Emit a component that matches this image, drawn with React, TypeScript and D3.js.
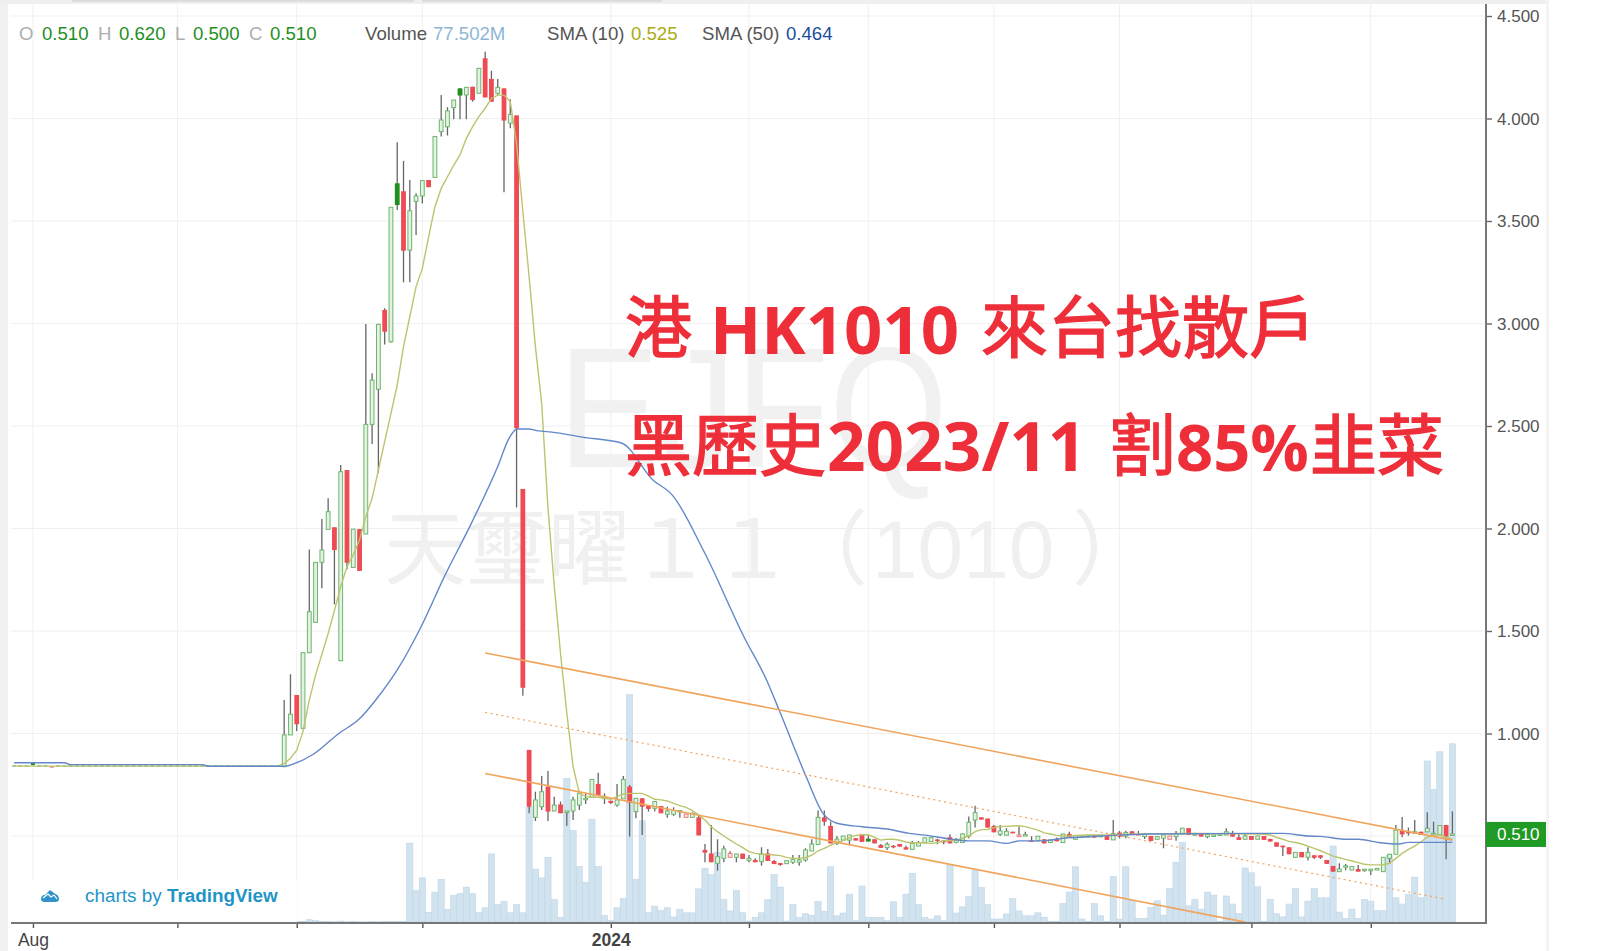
import { useEffect, useRef } from 'react';
import * as d3 from 'd3';

// flat stretch before the run up, one close per bar
const preListingClose = [
  0.84, 0.84, 0.84, 0.85, 0.84, 0.84, 0.835, 0.84, 0.84, 0.84, 0.84, 0.84, 0.84, 0.84, 0.84,
  0.84, 0.84, 0.84, 0.84, 0.84, 0.84, 0.84, 0.84, 0.84, 0.84, 0.84, 0.84, 0.84, 0.84, 0.84,
  0.84, 0.84, 0.84, 0.84, 0.84, 0.84, 0.84, 0.84, 0.84, 0.84, 0.84, 0.84, 0.84,
];

// open, high, low, close
const candles: [number, number, number, number][] = [
  [0.838, 1.163, 0.838, 0.993], [0.993, 1.289, 0.993, 1.094], [1.188, 1.188, 1.012, 1.045], [1.025, 1.394, 1.025, 1.394],
  [1.394, 1.898, 1.394, 1.594], [1.542, 1.835, 1.542, 1.835], [1.835, 2.046, 1.708, 1.895], [1.996, 2.147, 1.996, 2.082],
  [2.006, 2.006, 1.63, 1.895], [1.355, 2.31, 1.355, 2.277], [2.285, 2.285, 1.801, 1.833], [1.81, 1.997, 1.81, 1.997],
  [1.997, 1.997, 1.793, 1.793], [1.973, 2.998, 1.973, 2.508], [2.508, 2.757, 2.412, 2.724], [2.679, 2.996, 2.272, 2.996],
  [3.066, 3.074, 2.898, 2.96], [2.911, 3.567, 2.907, 3.567], [3.684, 3.884, 3.554, 3.578], [3.645, 3.793, 3.201, 3.355],
  [3.358, 3.7, 3.201, 3.55], [3.596, 3.635, 3.432, 3.622], [3.622, 3.697, 3.586, 3.697], [3.7, 3.7, 3.665, 3.665],
  [3.713, 3.912, 3.713, 3.912], [3.936, 4.115, 3.912, 3.993], [3.96, 4.055, 3.917, 4.037], [4.053, 4.09, 3.996, 4.09],
  [4.147, 4.147, 3.996, 4.112], [4.115, 4.152, 3.996, 4.152], [4.155, 4.155, 4.082, 4.09], [4.123, 4.245, 4.123, 4.245],
  [4.294, 4.326, 4.103, 4.103], [4.193, 4.233, 4.082, 4.082], [4.123, 4.193, 4.115, 4.152], [4.147, 4.147, 3.64, 3.99],
  [3.977, 4.094, 3.952, 4.02], [4.015, 4.015, 2.103, 2.489], [2.193, 2.193, 1.184, 1.223], [0.92, 0.92, 0.611, 0.643],
  [0.591, 0.716, 0.573, 0.676], [0.643, 0.793, 0.627, 0.716], [0.741, 0.817, 0.573, 0.619], [0.622, 0.692, 0.622, 0.651],
  [0.654, 0.668, 0.611, 0.611], [0.619, 0.622, 0.55, 0.622], [0.622, 0.692, 0.578, 0.676], [0.651, 0.721, 0.627, 0.708],
  [0.68, 0.708, 0.656, 0.684], [0.689, 0.776, 0.689, 0.776], [0.754, 0.809, 0.7, 0.7], [0.685, 0.708, 0.656, 0.69],
  [0.672, 0.672, 0.656, 0.661], [0.651, 0.754, 0.643, 0.676], [0.681, 0.793, 0.681, 0.776], [0.741, 0.749, 0.497, 0.663],
  [0.619, 0.684, 0.586, 0.684], [0.684, 0.684, 0.505, 0.643], [0.651, 0.651, 0.619, 0.632], [0.635, 0.668, 0.619, 0.668],
  [0.646, 0.646, 0.611, 0.611], [0.606, 0.643, 0.589, 0.622], [0.606, 0.64, 0.598, 0.624], [0.622, 0.624, 0.589, 0.624],
  [0.591, 0.607, 0.591, 0.607], [0.591, 0.614, 0.591, 0.611], [0.591, 0.602, 0.503, 0.503], [0.432, 0.461, 0.372, 0.419],
  [0.415, 0.554, 0.372, 0.372], [0.367, 0.484, 0.331, 0.399], [0.391, 0.453, 0.372, 0.437], [0.396, 0.425, 0.396, 0.415],
  [0.396, 0.412, 0.372, 0.412], [0.414, 0.414, 0.388, 0.388], [0.381, 0.407, 0.372, 0.391], [0.383, 0.391, 0.372, 0.372],
  [0.375, 0.445, 0.355, 0.412], [0.415, 0.437, 0.378, 0.378], [0.378, 0.383, 0.363, 0.363], [0.368, 0.368, 0.355, 0.359],
  [0.365, 0.38, 0.365, 0.38], [0.372, 0.407, 0.363, 0.386], [0.372, 0.407, 0.355, 0.383], [0.383, 0.44, 0.375, 0.432],
  [0.427, 0.484, 0.427, 0.461], [0.459, 0.624, 0.459, 0.591], [0.591, 0.624, 0.55, 0.57], [0.549, 0.57, 0.464, 0.464],
  [0.464, 0.5, 0.456, 0.485], [0.48, 0.5, 0.48, 0.5], [0.48, 0.505, 0.458, 0.505], [0.489, 0.49, 0.478, 0.478],
  [0.507, 0.507, 0.471, 0.471], [0.487, 0.504, 0.473, 0.473], [0.484, 0.484, 0.464, 0.464], [0.456, 0.461, 0.442, 0.442],
  [0.443, 0.469, 0.432, 0.46], [0.452, 0.456, 0.44, 0.451], [0.461, 0.461, 0.448, 0.448], [0.445, 0.452, 0.434, 0.434],
  [0.435, 0.476, 0.435, 0.464], [0.451, 0.476, 0.451, 0.468], [0.469, 0.491, 0.469, 0.491], [0.473, 0.492, 0.473, 0.492],
  [0.483, 0.487, 0.46, 0.478], [0.478, 0.478, 0.46, 0.469], [0.494, 0.508, 0.464, 0.464], [0.469, 0.49, 0.465, 0.484],
  [0.468, 0.513, 0.468, 0.51], [0.5, 0.595, 0.489, 0.567], [0.578, 0.647, 0.541, 0.614], [0.591, 0.591, 0.58, 0.58],
  [0.585, 0.585, 0.541, 0.541], [0.549, 0.554, 0.518, 0.518], [0.508, 0.554, 0.5, 0.525], [0.504, 0.538, 0.504, 0.523],
  [0.521, 0.521, 0.513, 0.513], [0.497, 0.546, 0.497, 0.505], [0.505, 0.521, 0.505, 0.507], [0.478, 0.499, 0.476, 0.476],
  [0.476, 0.499, 0.476, 0.499], [0.484, 0.484, 0.464, 0.464], [0.468, 0.481, 0.468, 0.481], [0.486, 0.493, 0.474, 0.474],
  [0.468, 0.51, 0.468, 0.51], [0.51, 0.521, 0.494, 0.494], [0.484, 0.502, 0.484, 0.502], [0.494, 0.505, 0.49, 0.502],
  [0.497, 0.502, 0.497, 0.502], [0.505, 0.505, 0.492, 0.492], [0.497, 0.503, 0.497, 0.503], [0.5, 0.5, 0.481, 0.481],
  [0.481, 0.578, 0.481, 0.512], [0.517, 0.525, 0.489, 0.497], [0.5, 0.525, 0.489, 0.517], [0.523, 0.523, 0.508, 0.508],
  [0.51, 0.525, 0.505, 0.507], [0.497, 0.51, 0.485, 0.51], [0.5, 0.5, 0.476, 0.476], [0.484, 0.497, 0.484, 0.497],
  [0.489, 0.505, 0.44, 0.505], [0.484, 0.5, 0.484, 0.5], [0.497, 0.524, 0.477, 0.513], [0.51, 0.538, 0.51, 0.538],
  [0.538, 0.538, 0.505, 0.505], [0.509, 0.516, 0.502, 0.511], [0.51, 0.51, 0.497, 0.497], [0.497, 0.508, 0.489, 0.508],
  [0.5, 0.505, 0.5, 0.505], [0.508, 0.51, 0.508, 0.51], [0.505, 0.538, 0.505, 0.521], [0.513, 0.525, 0.497, 0.497],
  [0.494, 0.51, 0.481, 0.481], [0.484, 0.51, 0.484, 0.5], [0.5, 0.5, 0.481, 0.481], [0.484, 0.5, 0.484, 0.5],
  [0.5, 0.5, 0.481, 0.481], [0.486, 0.486, 0.473, 0.473], [0.469, 0.469, 0.448, 0.448], [0.453, 0.453, 0.403, 0.445],
  [0.445, 0.445, 0.411, 0.411], [0.396, 0.42, 0.396, 0.42], [0.422, 0.422, 0.396, 0.396], [0.396, 0.445, 0.38, 0.42],
  [0.406, 0.406, 0.388, 0.394], [0.406, 0.406, 0.388, 0.394], [0.383, 0.383, 0.364, 0.364], [0.354, 0.354, 0.326, 0.326],
  [0.326, 0.367, 0.326, 0.339], [0.349, 0.364, 0.333, 0.355], [0.334, 0.351, 0.334, 0.351], [0.339, 0.359, 0.326, 0.326],
  [0.331, 0.338, 0.326, 0.338], [0.331, 0.338, 0.31, 0.338], [0.334, 0.342, 0.334, 0.342], [0.326, 0.396, 0.326, 0.396],
  [0.391, 0.411, 0.364, 0.411], [0.411, 0.554, 0.411, 0.529], [0.526, 0.593, 0.494, 0.508], [0.521, 0.541, 0.502, 0.513],
  [0.513, 0.578, 0.513, 0.521], [0.521, 0.521, 0.505, 0.505], [0.52, 0.616, 0.52, 0.538], [0.51, 0.57, 0.51, 0.513],
  [0.508, 0.554, 0.508, 0.551], [0.554, 0.554, 0.386, 0.497], [0.51, 0.62, 0.5, 0.51],
];

// millions of shares, same bars as candles
const volumes = [
  0.4, 0.4, 0.2, 0.3, 1.0, 0.6, 0.3, 0.2, 0.1, 0.4, 0.1, 0.2, 0.1, 0.1, 0.3, 0.1, 0.3, 0.2, 0.3, 0.3,
  34.3, 13.7, 19.2, 4.2, 13, 18.5, 5.5, 11.5, 12.3, 15.2, 12.3, 4.2, 6.2, 29.6, 7.6, 8.9, 4, 7.6, 4, 50,
  23, 19.2, 28.1, 9.7, 2, 62.5, 39.7, 24.1, 17.3, 44.7, 24.1, 2.9, 0.7, 6.2, 10.2, 98.8, 18.5, 44, 4, 6.9,
  5, 6.2, 2.2, 5.5, 4, 4, 14.4, 23.4, 20.6, 30.3, 9.7, 4.8, 13.7, 4, 0.4, 2, 4, 9.7, 20.6, 15.2,
  0.4, 7.6, 2, 3.6, 2.9, 8.9, 4.7, 24, 2.7, 3.9, 12.1, 0.6, 15.6, 2, 2, 2, 0.6, 8.8, 2, 12.1,
  21.2, 7.5, 2, 1.3, 2.7, 0.6, 24.7, 3.9, 6.6, 11, 22.5, 15, 7.5, 1.3, 1.3, 3.5, 10.2, 4.8, 2.7, 2.7,
  4, 2, 0.3, 0.3, 8, 13, 24, 1.3, 0.3, 8, 2.7, 0.3, 19.8, 1.3, 24, 9.5, 1.6, 1.6, 6.3, 9.2,
  3, 14.6, 26, 34.5, 7, 9.8, 5.6, 13, 11.7, 0.3, 11.3, 7.8, 3.6, 23.5, 21.4, 15.3, 0.3, 9.8, 3.6, 2.2,
  7.8, 14.6, 2.2, 9.1, 14.6, 10.5, 10.5, 33, 4.3, 1.6, 5.6, 1.6, 9.8, 9.1, 4.9, 4.9, 29, 10.5, 7.8, 12,
  19.5, 10.5, 70, 57.6, 74, 37, 77.5,
];

// bars that break the usual colouring, counted over the whole chart
const solidGreenBars = [3, 61, 71, 136];
const hollowRedBars = [107, 114, 160, 184];
const redFlatBars = [6];

const sma10Flat = 0.841;
const sma10 = [
  0.854, 0.879, 0.919, 1.009, 1.163, 1.285, 1.386, 1.488, 1.6, 1.716, 1.814, 1.871, 1.944, 2.058, 2.147, 2.285, 2.424, 2.562, 2.7,
  2.887, 3.033, 3.18, 3.269, 3.423, 3.57, 3.659, 3.716, 3.773, 3.822, 3.903, 3.96, 4.009, 4.05, 4.098, 4.114, 4.114, 4.082, 3.879, 3.545, 3.228,
  2.887, 2.61, 2.1, 1.72, 1.39, 1.1, 0.838, 0.708, 0.692, 0.689, 0.689, 0.684, 0.679, 0.692, 0.705, 0.708, 0.708, 0.708, 0.695, 0.679,
  0.676, 0.671, 0.659, 0.648, 0.64, 0.624, 0.602, 0.578, 0.545, 0.521, 0.5, 0.48, 0.461, 0.443, 0.424, 0.415, 0.411, 0.409, 0.407, 0.404,
  0.396, 0.391, 0.391, 0.394, 0.407, 0.428, 0.44, 0.456, 0.467, 0.477, 0.492, 0.503, 0.506, 0.506, 0.493, 0.48, 0.484, 0.484, 0.479, 0.471,
  0.467, 0.467, 0.466, 0.464, 0.467, 0.477, 0.477, 0.48, 0.489, 0.5, 0.521, 0.531, 0.532, 0.541, 0.546, 0.547, 0.549, 0.55, 0.546, 0.537,
  0.529, 0.515, 0.51, 0.503, 0.5, 0.5, 0.503, 0.504, 0.505, 0.505, 0.505, 0.505, 0.506, 0.507, 0.508, 0.509, 0.51, 0.51, 0.51, 0.511,
  0.511, 0.511, 0.511, 0.512, 0.512, 0.512, 0.512, 0.512, 0.511, 0.511, 0.512, 0.512, 0.511, 0.51, 0.51, 0.509, 0.508, 0.505, 0.494, 0.484,
  0.474, 0.468, 0.461, 0.451, 0.44, 0.428, 0.415, 0.402, 0.394, 0.386, 0.378, 0.37, 0.362, 0.359, 0.359, 0.359, 0.367, 0.391, 0.415, 0.435,
  0.451, 0.472, 0.494, 0.505, 0.505, 0.494, 0.484,
];

const sma50Bars = [
  0, 8, 9, 30, 31, 43, 44.7, 47.7, 51.7, 54.9, 57.8, 61, 64.8, 68.5, 72.8, 77, 78.8, 80.1, 81.9, 83.5, 85.6,
  90.4, 96.7, 101.7, 104.8, 109.8, 116.3, 119.8, 121.9, 126.1, 128.8, 131, 135, 139, 142.5, 145.6, 149, 152,
  155, 158, 160, 163.5, 167, 173, 181, 202, 206, 208, 212, 214, 217.5, 220.5, 222, 229,
];
const sma50Values = [
  0.857, 0.857, 0.848, 0.848, 0.84, 0.84, 0.854, 0.9, 1.0, 1.069, 1.172, 1.31, 1.521, 1.765, 2.025, 2.302, 2.44, 2.485, 2.485, 2.476, 2.47,
  2.446, 2.417, 2.237, 2.163, 1.89, 1.466, 1.261, 1.107, 0.79, 0.61, 0.562, 0.545, 0.534, 0.513, 0.502, 0.485, 0.476,
  0.476, 0.464, 0.476, 0.476, 0.489, 0.5, 0.51, 0.513, 0.5, 0.498, 0.484, 0.484, 0.467, 0.461, 0.469, 0.469,
];

// channel drawn by hand on the chart
const upperBars = [75, 229];
const upperPrices = [1.393, 0.48];
const middleBars = [75, 228];
const middlePrices = [1.103, 0.191];
const lowerBars = [75, 196];
const lowerPrices = [0.805, 0.08];

const priceTicks = [0.5, 1, 1.5, 2, 2.5, 3, 3.5, 4, 4.5];
const timeTicks = [3, 26, 45, 65, 95, 117, 136, 156, 176, 197, 216];
const timeLabels: Record<number, string> = { 3: 'Aug', 95: '2024' };

const legendItems = [
  { x: 19, text: 'O', color: '#aeaeae' }, { x: 42, text: '0.510', color: '#1f8f1f' },
  { x: 98, text: 'H', color: '#aeaeae' }, { x: 119, text: '0.620', color: '#1f8f1f' },
  { x: 175, text: 'L', color: '#aeaeae' }, { x: 193, text: '0.500', color: '#1f8f1f' },
  { x: 249, text: 'C', color: '#aeaeae' }, { x: 270, text: '0.510', color: '#1f8f1f' },
  { x: 365, text: 'Volume', color: '#555' }, { x: 433, text: '77.502M', color: '#8db6d6' },
  { x: 547, text: 'SMA (10)', color: '#555' }, { x: 631, text: '0.525', color: '#abab12' },
  { x: 702, text: 'SMA (50)', color: '#555' }, { x: 786, text: '0.464', color: '#1d4d9e' },
];

const headlineParts = [
  { text: '港', x: 625, y: 352, size: 67, latin: false },
  { text: 'HK1010', x: 710, y: 354, size: 67, latin: true },
  { text: '來台找散戶', x: 981, y: 352, size: 67, latin: false },
  { text: '黑歷史', x: 625, y: 470, size: 67, latin: false },
  { text: '2023/11', x: 827, y: 471, size: 67.5, latin: true },
  { text: '割', x: 1109, y: 470, size: 67, latin: false },
  { text: '85%', x: 1176, y: 471, size: 65, latin: true },
  { text: '韭菜', x: 1310, y: 470, size: 67, latin: false },
];

const watermarkParts = [
  { text: '天璽曜１１', x: 384, font: 'cjk' },
  { text: '（', x: 786, font: 'cjk' },
  { text: '1010', x: 872, font: 'latin' },
  { text: '）', x: 1072, font: 'cjk' },
];

const LAST_CLOSE = 0.51;
const sans = '"Liberation Sans", Arial, sans-serif';
const cjk = '"Noto Sans CJK TC", sans-serif';

export default function App() {
  const svgRef = useRef<SVGSVGElement | null>(null);

  useEffect(() => {
    if (!svgRef.current) return;
    const svg = d3.select(svgRef.current);
    svg.selectAll('*').remove();

    const plot = { left: 11, right: 1486, top: 4, bottom: 923 };
    const offset = preListingClose.length;

    const x = d3.scaleLinear().domain([0, offset + candles.length - 1]).range([14.1, 1452.4]);
    const y = d3.scaleLinear().domain([0.0756, 4.5]).range([plot.bottom, 16]);
    const yVol = d3.scaleLinear().domain([0, 100]).range([plot.bottom - 1, 692]);

    // page furniture around the chart
    svg.append('rect').attr('width', 1600).attr('height', 951).attr('fill', '#fff');
    svg.append('rect').attr('width', 8).attr('height', 951).attr('fill', '#f1f1f1');
    svg.append('rect').attr('width', 1549).attr('height', 4).attr('fill', '#efefef');
    svg.append('rect').attr('x', 72).attr('width', 342).attr('height', 2).attr('fill', '#ddd');
    svg.append('rect').attr('x', 422).attr('width', 240).attr('height', 2).attr('fill', '#ddd');
    svg.append('rect').attr('x', 1546).attr('width', 3).attr('height', 951).attr('fill', '#f4f4f4');

    // Grid
    svg.append('g').selectAll('line').data(priceTicks).join('line')
      .attr('x1', plot.left).attr('x2', plot.right - 3)
      .attr('y1', d => y(d)).attr('y2', d => y(d))
      .attr('stroke', '#efefef').attr('stroke-width', 1.2);
    svg.append('g').selectAll('line').data(timeTicks).join('line')
      .attr('x1', d => x(d)).attr('x2', d => x(d))
      .attr('y1', plot.top).attr('y2', plot.bottom)
      .attr('stroke', '#f0f0f0').attr('stroke-width', 1);

    // Watermarks
    svg.append('text').attr('x', 558).attr('y', 467)
      .attr('fill', '#f1f1f1').attr('font-family', sans).attr('font-size', 170)
      .attr('textLength', 390).attr('lengthAdjust', 'spacingAndGlyphs')
      .text('EJFQ');
    svg.append('g').selectAll('text').data(watermarkParts).join('text')
      .attr('x', d => d.x).attr('y', 578)
      .attr('fill', '#f0f0f0').attr('font-size', 82)
      .attr('font-family', d => (d.font === 'cjk' ? cjk : sans))
      .text(d => d.text);

    const chart = svg.append('g');
    svg.append('clipPath').attr('id', 'plot-clip').append('rect')
      .attr('x', plot.left).attr('y', plot.top)
      .attr('width', plot.right - plot.left).attr('height', plot.bottom - plot.top);
    chart.attr('clip-path', 'url(#plot-clip)');

    // Volume
    chart.append('g').selectAll('rect').data(volumes).join('rect')
      .attr('x', (_, i) => x(i + offset) - 3.1)
      .attr('width', 6.2)
      .attr('y', d => yVol(d))
      .attr('height', d => yVol(0) - yVol(d))
      .attr('fill', '#d2e3f0').attr('stroke', '#bfd5e6').attr('stroke-width', 0.6);

    // Flat stretch
    const flat = chart.append('g');
    preListingClose.forEach((c, i) => {
      const color = solidGreenBars.includes(i) ? '#1f8f1f' : redFlatBars.includes(i) ? '#ee7a80' : '#79b779';
      flat.append('rect')
        .attr('x', x(i) - 2).attr('width', 4)
        .attr('y', y(c) - (solidGreenBars.includes(i) ? 2 : 1))
        .attr('height', solidGreenBars.includes(i) ? 3 : 1.4)
        .attr('fill', color);
    });

    // Candles
    const candleG = chart.append('g');
    candles.forEach(([o, h, l, c], k) => {
      const bar = k + offset;
      const cx = x(bar);
      candleG.append('line')
        .attr('x1', cx).attr('x2', cx).attr('y1', y(h)).attr('y2', y(l))
        .attr('stroke', '#666').attr('stroke-width', 1.3);

      const down = c < o;
      const top = y(Math.max(o, c));
      const height = Math.max(Math.abs(y(o) - y(c)), 1.5);
      if (down) {
        const color = solidGreenBars.includes(bar) ? '#1f8f1f' : '#ee4b55';
        candleG.append('rect')
          .attr('x', cx - 2.4).attr('width', 4.8)
          .attr('y', top).attr('height', height)
          .attr('fill', color);
      } else {
        const red = hollowRedBars.includes(bar);
        candleG.append('rect')
          .attr('x', cx - 1.9).attr('width', 3.8)
          .attr('y', top).attr('height', height)
          .attr('fill', red ? '#fde6e6' : '#e3f2e3')
          .attr('stroke', red ? '#ee7a80' : '#6db56d').attr('stroke-width', 1);
      }
    });

    // SMA 10
    const line = d3.line<[number, number]>().x(d => x(d[0])).y(d => y(d[1]));
    const sma10Points: [number, number][] = [
      [0, sma10Flat], [offset - 1, sma10Flat],
      ...sma10.map((v, i): [number, number] => [i + offset, v]),
    ];
    chart.append('path').attr('d', line(sma10Points))
      .attr('fill', 'none').attr('stroke', '#bcc46c').attr('stroke-width', 1.4);

    // SMA 50
    const smoothLine = d3.line<[number, number]>().x(d => x(d[0])).y(d => y(d[1])).curve(d3.curveMonotoneX);
    chart.append('path').attr('d', smoothLine(sma50Bars.map((b, i): [number, number] => [b, sma50Values[i]])))
      .attr('fill', 'none').attr('stroke', '#6388c9').attr('stroke-width', 1.4);

    // Channel
    const channel = [
      { bars: upperBars, prices: upperPrices, dash: null },
      { bars: middleBars, prices: middlePrices, dash: '2 3.5' },
      { bars: lowerBars, prices: lowerPrices, dash: null },
    ];
    channel.forEach(c => {
      chart.append('path').attr('d', line(c.bars.map((b, i): [number, number] => [b, c.prices[i]])))
        .attr('fill', 'none').attr('stroke', '#f0a45c')
        .attr('stroke-width', c.dash ? 1.2 : 1.6)
        .attr('stroke-dasharray', c.dash);
    });

    // TradingView badge
    svg.append('rect').attr('x', 32).attr('y', 880).attr('width', 265).attr('height', 42).attr('fill', '#fff');
    svg.append('path')
      .attr('d', 'M41 899 Q41 895 45 895 L50 890 L54 893 Q59 895 59 899 Q59 902 55 902 L45 902 Q41 902 41 899 Z')
      .attr('fill', '#2f93c9');
    svg.append('path').attr('d', 'M43 898 L48 894 L51 897 L54 895 L57 899')
      .attr('fill', 'none').attr('stroke', '#fff').attr('stroke-width', 1.2);
    const badge = svg.append('text').attr('x', 85).attr('y', 902)
      .attr('font-family', sans).attr('font-size', 18.9).attr('fill', '#1f95c7');
    badge.append('tspan').text('charts by ');
    badge.append('tspan').attr('font-weight', 700).text('TradingView');

    // Axes
    const rightAxis = svg.append('g').attr('transform', `translate(${plot.right},0)`)
      .call(d3.axisRight(y).tickValues(priceTicks).tickFormat(d3.format('.3f')).tickSize(6).tickPadding(5));
    rightAxis.select('.domain').remove();
    rightAxis.selectAll('text').attr('font-family', sans).attr('font-size', 17).attr('fill', '#555')
      .attr('transform', 'translate(0,0.5)');
    rightAxis.selectAll('line').attr('stroke', '#666').attr('stroke-width', 1.4);

    const bottomAxis = svg.append('g').attr('transform', `translate(0,${plot.bottom})`)
      .call(d3.axisBottom(x).tickValues(timeTicks).tickFormat(d => timeLabels[+d] || '').tickSize(5).tickPadding(6));
    bottomAxis.select('.domain').remove();
    bottomAxis.selectAll('line').attr('stroke', '#555').attr('stroke-width', 1.4);
    bottomAxis.selectAll('text').attr('font-family', sans).attr('font-size', 17.5).attr('fill', '#444')
      .attr('font-weight', d => (timeLabels[+(d as number)] === '2024' ? 700 : 400));

    svg.append('line').attr('x1', plot.left).attr('x2', plot.right + 1).attr('y1', plot.bottom).attr('y2', plot.bottom)
      .attr('stroke', '#777').attr('stroke-width', 2);
    svg.append('line').attr('x1', plot.right).attr('x2', plot.right).attr('y1', plot.top).attr('y2', plot.bottom)
      .attr('stroke', '#777').attr('stroke-width', 2);

    // Last price tag
    svg.append('rect').attr('x', plot.right).attr('y', y(LAST_CLOSE) - 12).attr('width', 60).attr('height', 25)
      .attr('fill', '#1f9a24');
    svg.append('text').attr('x', plot.right + 11).attr('y', y(LAST_CLOSE) + 6.5)
      .attr('font-family', sans).attr('font-size', 17).attr('fill', '#fff')
      .text(d3.format('.3f')(LAST_CLOSE));

    // Legend
    svg.append('g').selectAll('text').data(legendItems).join('text')
      .attr('x', d => d.x).attr('y', 40)
      .attr('font-family', sans).attr('font-size', 18.6)
      .attr('fill', d => d.color)
      .text(d => d.text);

    // Headline
    svg.append('g').selectAll('text').data(headlineParts).join('text')
      .attr('x', d => d.x).attr('y', d => d.y)
      .attr('font-family', d => (d.latin ? '"Open Sans", sans-serif' : cjk))
      .attr('font-weight', d => (d.latin ? 700 : 400))
      .attr('font-size', d => d.size)
      .attr('stroke', d => (d.latin ? 'none' : '#ee2f3a'))
      .attr('stroke-width', 1.4)
      .attr('fill', '#ee2f3a')
      .text(d => d.text);
  }, []);

  return (
    <svg
      ref={svgRef}
      width={1600}
      height={951}
      style={{ position: 'absolute', top: 0, left: 0, display: 'block' }}
    />
  );
}
